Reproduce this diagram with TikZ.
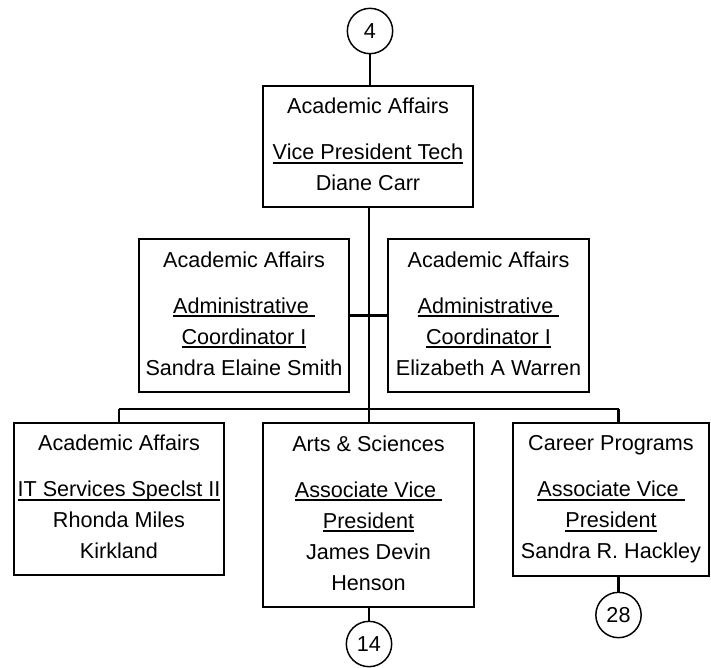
\documentclass[tikz,border=0pt]{standalone}
\usepackage{fontspec}
\setmainfont{Liberation Sans}
\usetikzlibrary{positioning,calc}

% underlined job title, line below the baseline
\newlength{\jtwd}
\newcommand{\jobtitle}[1]{\settowidth{\jtwd}{#1}\rlap{#1}\rule[-3pt]{\jtwd}{1.3pt}}

\tikzset{
  orgbox/.style={draw, line width=1.5pt, align=center, inner sep=0pt,
    font=\fontsize{16.2}{23.25}\selectfont, execute at end node=\vphantom{y}},
  pagelink/.style={draw, circle, line width=1.1pt, minimum size=34pt, inner sep=0pt,
    font=\fontsize{16.2}{19}\selectfont},
  link/.style={line width=1.6pt}
}

\begin{document}
\begin{tikzpicture}[x=0.75pt, y=-0.75pt]
  \useasboundingbox (0,0) rectangle (711,668);

  % off-page links
  \node[pagelink] (p4) at (370,31) {4};
  \node[pagelink] (p14) at (369,644) {14};
  \node[pagelink] (p28) at (618.5,615) {28};

  % top
  \node[orgbox, minimum width=157.5pt, minimum height=90.75pt] (vp) at (368,146.5)
    {Academic Affairs\\[11.25pt] \jobtitle{Vice President Tech}\\ Diane Carr};

  % staff
  \node[orgbox, minimum width=157.5pt, minimum height=114.75pt] (adm1) at (244,315.5)
    {Academic Affairs\\[11.25pt] \jobtitle{Administrative\ }\\ \jobtitle{Coordinator I}\\ Sandra Elaine Smith};
  \node[orgbox, minimum width=150.75pt, minimum height=114.75pt] (adm2) at (488.5,315.5)
    {Academic Affairs\\[11.25pt] \jobtitle{Administrative\ }\\ \jobtitle{Coordinator I}\\ Elizabeth A Warren};

  % reports
  \node[orgbox, minimum width=157.5pt, minimum height=114pt] (its) at (119,499)
    {Academic Affairs\\[11.25pt] \jobtitle{IT Services Speclst II}\\ Rhonda Miles\\ Kirkland};
  \node[orgbox, minimum width=158.25pt, minimum height=138pt] (avp1) at (368.5,515)
    {Arts \& Sciences\\[11.25pt] \jobtitle{Associate Vice\ }\\ \jobtitle{President}\\ James Devin\\ Henson};
  \node[orgbox, minimum width=147pt, minimum height=114.75pt] (avp2) at (611,499.5)
    {Career Programs\\[11.25pt] \jobtitle{Associate Vice\ }\\ \jobtitle{President}\\ Sandra R. Hackley};

  % bus
  \coordinate (trunk) at (369,409);
  \coordinate (busl) at (119,409);
  \coordinate (busr) at (618.5,409);

  \draw[link] (p4) -- (p4 |- vp.north);
  \draw[link] (vp.south -| trunk) -- (trunk);
  \draw[link] (adm1.east) -- (adm2.west);
  \draw[link] (busl) -- (busr);
  \draw[link] (busl) -- (its.north);
  \draw[link] (trunk) -- (trunk |- avp1.north);
  \draw[link] (busr) -- (busr |- avp2.north);
  \draw[link] (avp1.south -| p14) -- (p14);
  \draw[link] (avp2.south -| p28) -- (p28);
\end{tikzpicture}
\end{document}
